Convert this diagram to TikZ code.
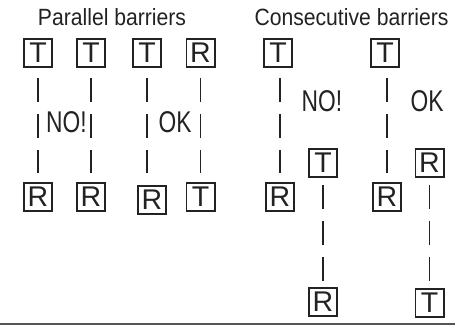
\documentclass[tikz,border=0pt]{standalone}
\usepackage{fontspec}
\setmainfont{Liberation Sans}
\newfontfamily\verdictfont[FakeStretch=0.76]{Liberation Sans}
\newfontfamily\headingfont[FakeStretch=0.9]{Liberation Sans}
\definecolor{ink}{HTML}{222222}
\definecolor{rulegray}{HTML}{555555}
\begin{document}
\begin{tikzpicture}[x=1pt,y=-1pt,
  box/.style={draw=ink, line width=1.8pt, minimum size=28.2pt, inner sep=0pt,
              text=ink, font=\fontsize{28.5}{28.5}\selectfont},
  heading/.style={anchor=base, text=ink, font=\headingfont\fontsize{23.5}{23.5}\selectfont},
  verdict/.style={anchor=base, text=ink, font=\verdictfont\fontsize{30}{30}\selectfont},
  barrier/.style={draw=ink, line width=1.9pt, dash pattern=on 24pt off 12pt,
                  shorten <=10pt, shorten >=9pt},
  lowerleg/.style={shorten <=7pt, shorten >=6pt}]
\useasboundingbox (0,0) rectangle (455,326);

% headings
\node[heading] (hpar) at (112,26) {Parallel barriers};
\node[heading] (hcon) at (351.5,26) {Consecutive barriers};

% parallel barriers: transmitter/receiver pairs
\node[box] (p1t) at (38,53) {T};
\node[box] (p2t) at (91,53) {T};
\node[box] (p3t) at (147,53) {T};
\node[box] (p4r) at (200.5,53) {R};
\node[box] (p1r) at (38,197) {R};
\node[box] (p2r) at (91,197) {R};
\node[box] (p3r) at (152,200) {R};
\node[box] (p4t) at (200.5,197) {T};

\draw[barrier] (p1t) -- (p1r);
\draw[barrier] (p2t) -- (p2r);
\draw[barrier] (p3t.south) -- (p3t.south |- p2r.north);
\draw[barrier] (p4r) -- (p4t);

\node[verdict] (pno) at (66.5,133) {NO!};
\node[verdict] (pok) at (175,133) {OK};

% consecutive barriers
\node[box] (c1t) at (278,53) {T};
\node[box] (c1r) at (280,197) {R};
\node[box] (c2t) at (323,163) {T};
\node[box] (c2r) at (323,302) {R};
\node[box] (c3t) at (385,53) {T};
\node[box] (c3r) at (387,197) {R};
\node[box] (c4r) at (429.5,163) {R};
\node[box] (c4t) at (429.5,303) {T};

\draw[barrier] (c1t.south -| c1r.north) -- (c1r.north);
\draw[barrier,lowerleg] (c2t) -- (c2r);
\draw[barrier] (c3t.south -| c3r.north) -- (c3r.north);
\draw[barrier,lowerleg] (c4r) -- (c4t);

\node[verdict] (cno) at (322,112) {NO!};
\node[verdict] (cok) at (427,112) {OK};

% base rule
\coordinate (ruleL) at (0,324);
\coordinate (ruleR) at (455,324);
\draw[rulegray, line width=2pt] (ruleL) -- (ruleR);
\end{tikzpicture}
\end{document}
